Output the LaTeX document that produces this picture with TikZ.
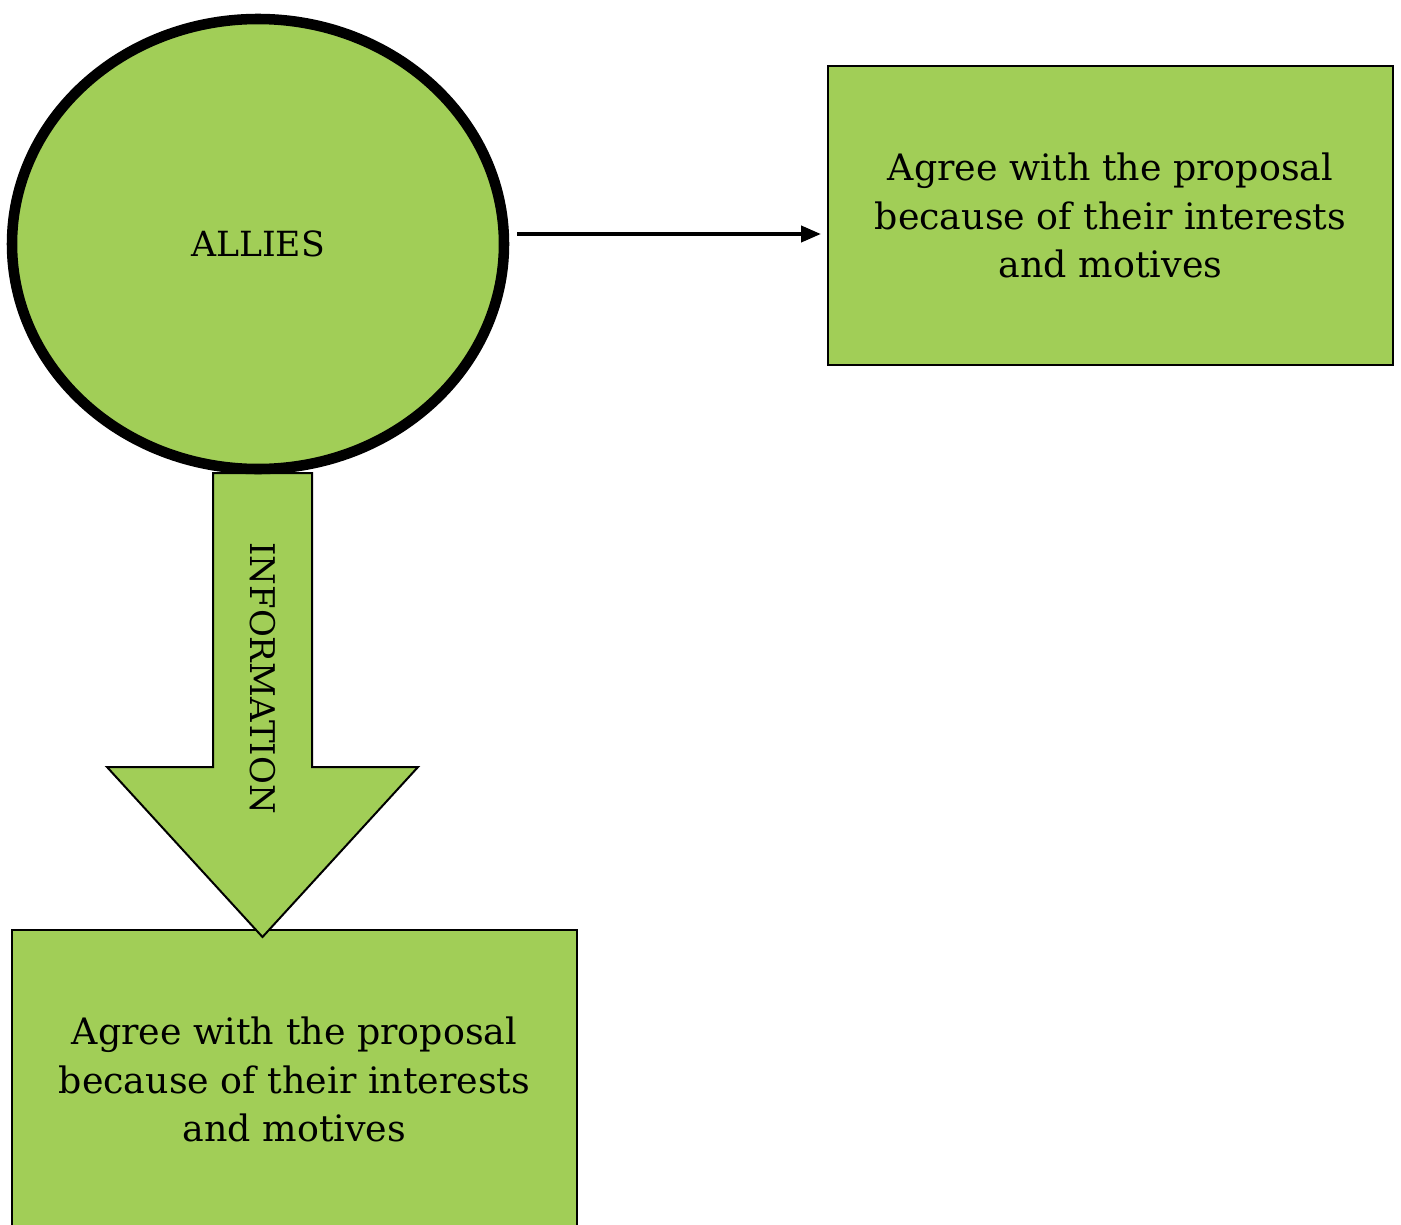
\documentclass[tikz,border=0pt]{standalone}
\usepackage{fontspec}
\setmainfont{DejaVu Serif}
\usetikzlibrary{arrows.meta,shapes.geometric}
\definecolor{leaf}{RGB}{161,206,87}
\begin{document}
\begin{tikzpicture}[x=0.75pt,y=-0.75pt,
  blob/.style={ellipse, draw=black, line width=7.9pt, fill=leaf,
    minimum width=369pt, minimum height=337.5pt, inner sep=0pt,
    font=\fontsize{26}{30}\selectfont},
  card/.style={rectangle, draw=black, line width=1.5pt, fill=leaf,
    minimum width=423.75pt, minimum height=224.25pt, align=center,
    font=\fontsize{27.3}{36.4}\selectfont},
  conn/.style={line width=3pt, -{Triangle[length=15pt,width=12pt]},
    shorten <=6pt, shorten >=4.5pt},
  bigarrow/.style={draw=black, line width=1.5pt, fill=leaf, line join=miter}]
\useasboundingbox (0,0) rectangle (1401,1224);

% boxes first, so the block arrow tip lies on top of the lower one
\node[card] (agreeA) at (1110.5,215.5)
  {Agree with the proposal\\because of their interests\\and motives};
\node[card] (agreeB) at (294.5,1079.5)
  {Agree with the proposal\\because of their interests\\and motives};

% block arrow from the circle down to the lower box
\coordinate (top) at (262.5,473);
\coordinate (tip) at (262.5,937);
\path[bigarrow] (top) ++(-49.5,0) -- ++(0,294) -- ++(-106,0) -- (tip)
  -- ++(155.5,-170) -- ++(-106,0) -- ++(0,-294) -- cycle;
\node[rotate=-90, anchor=base, font=\fontsize{25.5}{30}\selectfont]
  (info) at (250,678) {INFORMATION};

\node[blob] (allies) at (258,244) {ALLIES};

\draw[conn] (allies.east |- 0,234) -- (agreeA.west |- 0,234);
\end{tikzpicture}
\end{document}
